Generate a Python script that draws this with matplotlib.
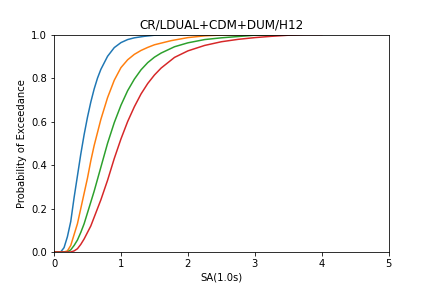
import numpy as np
import matplotlib
matplotlib.use("Agg")
import matplotlib.pyplot as plt

# exceedance curves
blue_x = [0, 0.1, 0.15, 0.2, 0.25, 0.3, 0.35, 0.4, 0.45, 0.5, 0.55, 0.6, 0.65, 0.7,
          0.8, 0.9, 1.0, 1.1, 1.2, 1.35, 1.5, 1.75, 2.0]
blue_y = [0, 0.0, 0.02, 0.07, 0.14, 0.25, 0.35, 0.45, 0.54, 0.62, 0.69, 0.75, 0.80, 0.84,
          0.90, 0.94, 0.963, 0.977, 0.985, 0.992, 0.997, 0.999, 1.0]

orange_x = [0, 0.15, 0.2, 0.25, 0.3, 0.35, 0.4, 0.45, 0.5, 0.55, 0.6, 0.65, 0.7, 0.8,
            0.9, 1.0, 1.1, 1.2, 1.3, 1.4, 1.5, 1.75, 2.0, 2.25, 2.5, 3.0]
orange_y = [0, 0.0, 0.005, 0.03, 0.08, 0.13, 0.2, 0.27, 0.34, 0.42, 0.49, 0.55, 0.61, 0.71,
            0.79, 0.848, 0.884, 0.909, 0.927, 0.941, 0.953, 0.972, 0.986, 0.994, 0.998, 1.0]

green_x = [0, 0.2, 0.25, 0.3, 0.35, 0.4, 0.45, 0.5, 0.55, 0.6, 0.7, 0.8, 0.9, 1.0, 1.1,
           1.2, 1.3, 1.4, 1.5, 1.6, 1.8, 2.0, 2.25, 2.5, 2.75, 3.0, 3.5]
green_y = [0, 0.0, 0.01, 0.03, 0.055, 0.09, 0.13, 0.18, 0.23, 0.28, 0.39, 0.5, 0.595, 0.675, 0.742,
           0.795, 0.838, 0.871, 0.896, 0.915, 0.944, 0.962, 0.977, 0.985, 0.991, 0.997, 1.0]

red_x = [0, 0.25, 0.3, 0.35, 0.4, 0.45, 0.5, 0.55, 0.6, 0.7, 0.8, 0.9, 1.0, 1.1, 1.2,
         1.3, 1.4, 1.5, 1.6, 1.8, 2.0, 2.25, 2.5, 2.75, 3.0, 3.25, 3.5, 3.75, 4.0]
red_y = [0, 0.0, 0.005, 0.015, 0.035, 0.06, 0.09, 0.12, 0.16, 0.24, 0.33, 0.43, 0.52, 0.6, 0.668,
         0.727, 0.775, 0.814, 0.846, 0.895, 0.925, 0.95, 0.967, 0.978, 0.986, 0.992, 0.997, 1.0, 1.0]

fig = plt.figure(figsize=(6, 4), dpi=72)
plt.subplots_adjust(left=0.125, right=0.9, top=0.88, bottom=0.125)
plt.plot(blue_x, blue_y)
plt.plot(orange_x, orange_y)
plt.plot(green_x, green_y)
plt.plot(red_x, red_y)
plt.xlim(0, 5)
plt.ylim(0, 1)
plt.xlabel("SA(1.0s)")
plt.ylabel("Probability of Exceedance")
plt.title("CR/LDUAL+CDM+DUM/H12")
plt.savefig("out.png", dpi=72)
